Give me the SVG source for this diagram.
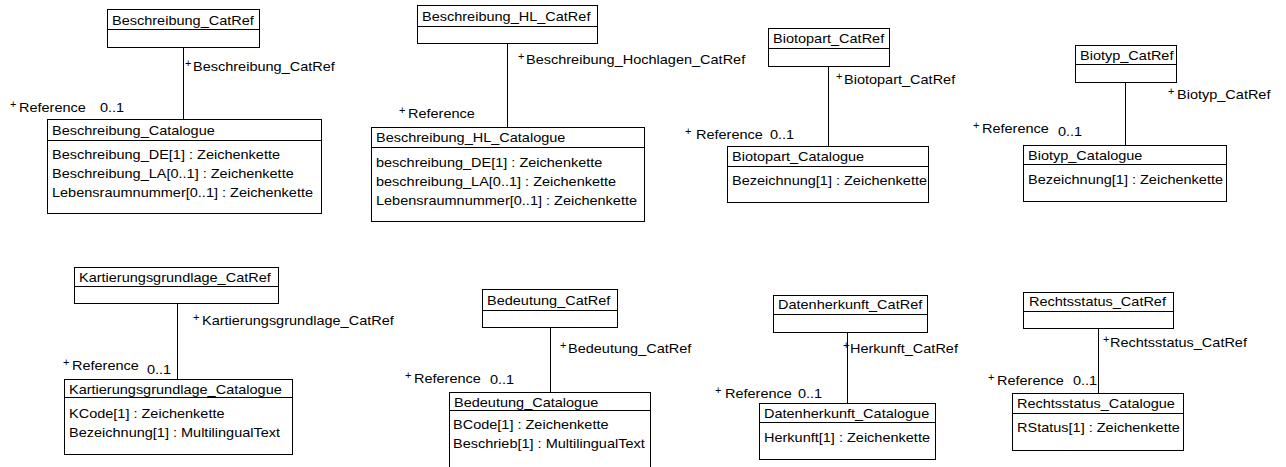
<svg xmlns="http://www.w3.org/2000/svg" width="1286" height="467" viewBox="0 0 1286 467">
<style>
.box{fill:#fff;stroke:#000;stroke-width:1}
.div{stroke:#000;stroke-width:1}
.con{stroke:#000;stroke-width:1;fill:none}
.t{font-family:"Liberation Sans",Arial,sans-serif;font-size:12px;fill:#000}
.p{font-family:"Liberation Sans",Arial,sans-serif;font-size:11px;fill:#000}
</style>
<rect width="1286" height="467" fill="#fff"/>
<g id="connectors">
<line class="con" x1="183.5" y1="47.5" x2="183.5" y2="119.5"/>
<line class="con" x1="507.5" y1="43.5" x2="507.5" y2="127.5"/>
<line class="con" x1="828.5" y1="66.5" x2="828.5" y2="146.5"/>
<line class="con" x1="1125.5" y1="82.5" x2="1125.5" y2="145.5"/>
<line class="con" x1="177.5" y1="303.5" x2="177.5" y2="379.5"/>
<line class="con" x1="550.5" y1="327.5" x2="550.5" y2="392.5"/>
<line class="con" x1="847.5" y1="332.5" x2="847.5" y2="403.5"/>
<line class="con" x1="1098.5" y1="328.5" x2="1098.5" y2="393.5"/>
<text class="p" x="185" y="67">+</text><text class="t" transform="translate(193 71) scale(1.21 1)">Beschreibung_CatRef</text>
<text class="p" x="10" y="108">+</text><text class="t" transform="translate(19 112) scale(1.21 1)">Reference</text><text class="t" transform="translate(100 112) scale(1.21 1)">0..1</text>
<text class="p" x="518" y="60">+</text><text class="t" transform="translate(526 64) scale(1.21 1)">Beschreibung_Hochlagen_CatRef</text>
<text class="p" x="399" y="114">+</text><text class="t" transform="translate(408 118) scale(1.21 1)">Reference</text>
<text class="p" x="836" y="80">+</text><text class="t" transform="translate(844 84) scale(1.21 1)">Biotopart_CatRef</text>
<text class="p" x="685" y="135">+</text><text class="t" transform="translate(696 139) scale(1.21 1)">Reference</text><text class="t" transform="translate(770 139) scale(1.21 1)">0..1</text>
<text class="p" x="1168" y="95">+</text><text class="t" transform="translate(1177 99) scale(1.21 1)">Biotyp_CatRef</text>
<text class="p" x="973" y="129">+</text><text class="t" transform="translate(982 133) scale(1.21 1)">Reference</text><text class="t" transform="translate(1058 136) scale(1.21 1)">0..1</text>
<text class="p" x="193" y="321">+</text><text class="t" transform="translate(202 325) scale(1.21 1)">Kartierungsgrundlage_CatRef</text>
<text class="p" x="63" y="366">+</text><text class="t" transform="translate(72 370) scale(1.21 1)">Reference</text><text class="t" transform="translate(147 374) scale(1.21 1)">0..1</text>
<text class="p" x="560" y="349">+</text><text class="t" transform="translate(568 353) scale(1.21 1)">Bedeutung_CatRef</text>
<text class="p" x="405" y="379">+</text><text class="t" transform="translate(414 383) scale(1.21 1)">Reference</text><text class="t" transform="translate(490 384) scale(1.21 1)">0..1</text>
<text class="p" x="843" y="349">+</text><text class="t" transform="translate(850 353) scale(1.21 1)">Herkunft_CatRef</text>
<text class="p" x="715" y="394">+</text><text class="t" transform="translate(725 398) scale(1.21 1)">Reference</text><text class="t" transform="translate(798 398) scale(1.21 1)">0..1</text>
<text class="p" x="1103" y="343">+</text><text class="t" transform="translate(1110 347) scale(1.21 1)">Rechtsstatus_CatRef</text>
<text class="p" x="988" y="381">+</text><text class="t" transform="translate(997 385) scale(1.21 1)">Reference</text><text class="t" transform="translate(1073 385) scale(1.21 1)">0..1</text>
</g>
<g id="Beschreibung_CatRef">
<rect class="box" x="107.5" y="9.5" width="152" height="38"/><line class="div" x1="107.5" y1="29.5" x2="259.5" y2="29.5"/>
<text class="t" transform="translate(112 25) scale(1.21 1)">Beschreibung_CatRef</text>
</g>
<g id="Beschreibung_Catalogue">
<rect class="box" x="47.5" y="119.5" width="274" height="94"/><line class="div" x1="47.5" y1="140.5" x2="321.5" y2="140.5"/>
<text class="t" transform="translate(52 135) scale(1.21 1)">Beschreibung_Catalogue</text>
<text class="t" transform="translate(52 159) scale(1.21 1)">Beschreibung_DE[1] : Zeichenkette</text>
<text class="t" transform="translate(52 178) scale(1.21 1)">Beschreibung_LA[0..1] : Zeichenkette</text>
<text class="t" transform="translate(52 197) scale(1.21 1)">Lebensraumnummer[0..1] : Zeichenkette</text>
</g>
<g id="Beschreibung_HL_CatRef">
<rect class="box" x="417.5" y="5.5" width="180" height="38"/><line class="div" x1="417.5" y1="26.5" x2="597.5" y2="26.5"/>
<text class="t" transform="translate(422 21) scale(1.21 1)">Beschreibung_HL_CatRef</text>
</g>
<g id="Beschreibung_HL_Catalogue">
<rect class="box" x="371.5" y="127.5" width="273" height="94"/><line class="div" x1="371.5" y1="147.5" x2="644.5" y2="147.5"/>
<text class="t" transform="translate(376 142) scale(1.21 1)">Beschreibung_HL_Catalogue</text>
<text class="t" transform="translate(376 167) scale(1.21 1)">beschreibung_DE[1] : Zeichenkette</text>
<text class="t" transform="translate(376 186) scale(1.21 1)">beschreibung_LA[0..1] : Zeichenkette</text>
<text class="t" transform="translate(376 205) scale(1.21 1)">Lebensraumnummer[0..1] : Zeichenkette</text>
</g>
<g id="Biotopart_CatRef">
<rect class="box" x="768.5" y="28.5" width="121" height="38"/><line class="div" x1="768.5" y1="48.5" x2="889.5" y2="48.5"/>
<text class="t" transform="translate(773 43) scale(1.21 1)">Biotopart_CatRef</text>
</g>
<g id="Biotopart_Catalogue">
<rect class="box" x="727.5" y="146.5" width="201" height="56"/><line class="div" x1="727.5" y1="166.5" x2="928.5" y2="166.5"/>
<text class="t" transform="translate(732 161) scale(1.21 1)">Biotopart_Catalogue</text>
<text class="t" transform="translate(732 185) scale(1.21 1)">Bezeichnung[1] : Zeichenkette</text>
</g>
<g id="Biotyp_CatRef">
<rect class="box" x="1075.5" y="45.5" width="101" height="37"/><line class="div" x1="1075.5" y1="64.5" x2="1176.5" y2="64.5"/>
<text class="t" transform="translate(1080 60) scale(1.21 1)">Biotyp_CatRef</text>
</g>
<g id="Biotyp_Catalogue">
<rect class="box" x="1023.5" y="145.5" width="203" height="56"/><line class="div" x1="1023.5" y1="164.5" x2="1226.5" y2="164.5"/>
<text class="t" transform="translate(1028 160) scale(1.21 1)">Biotyp_Catalogue</text>
<text class="t" transform="translate(1028 184) scale(1.21 1)">Bezeichnung[1] : Zeichenkette</text>
</g>
<g id="Kartierungsgrundlage_CatRef">
<rect class="box" x="74.5" y="267.5" width="204" height="36"/><line class="div" x1="74.5" y1="286.5" x2="278.5" y2="286.5"/>
<text class="t" transform="translate(79 282) scale(1.21 1)">Kartierungsgrundlage_CatRef</text>
</g>
<g id="Kartierungsgrundlage_Catalogue">
<rect class="box" x="64.5" y="379.5" width="228" height="75"/><line class="div" x1="64.5" y1="397.5" x2="292.5" y2="397.5"/>
<text class="t" transform="translate(69 394) scale(1.21 1)">Kartierungsgrundlage_Catalogue</text>
<text class="t" transform="translate(69 418) scale(1.21 1)">KCode[1] : Zeichenkette</text>
<text class="t" transform="translate(69 437) scale(1.21 1)">Bezeichnung[1] : MultilingualText</text>
</g>
<g id="Bedeutung_CatRef">
<rect class="box" x="482.5" y="289.5" width="135" height="38"/><line class="div" x1="482.5" y1="310.5" x2="617.5" y2="310.5"/>
<text class="t" transform="translate(487 305) scale(1.21 1)">Bedeutung_CatRef</text>
</g>
<g id="Bedeutung_Catalogue">
<rect class="box" x="449.5" y="392.5" width="201" height="80"/><line class="div" x1="449.5" y1="410.5" x2="650.5" y2="410.5"/>
<text class="t" transform="translate(454 407) scale(1.21 1)">Bedeutung_Catalogue</text>
<text class="t" transform="translate(453 429) scale(1.21 1)">BCode[1] : Zeichenkette</text>
<text class="t" transform="translate(453 448) scale(1.21 1)">Beschrieb[1] : MultilingualText</text>
</g>
<g id="Datenherkunft_CatRef">
<rect class="box" x="773.5" y="295.5" width="154" height="37"/><line class="div" x1="773.5" y1="314.5" x2="927.5" y2="314.5"/>
<text class="t" transform="translate(778 309) scale(1.21 1)">Datenherkunft_CatRef</text>
</g>
<g id="Datenherkunft_Catalogue">
<rect class="box" x="759.5" y="403.5" width="176" height="56"/><line class="div" x1="759.5" y1="422.5" x2="935.5" y2="422.5"/>
<text class="t" transform="translate(764 418) scale(1.21 1)">Datenherkunft_Catalogue</text>
<text class="t" transform="translate(764 442) scale(1.21 1)">Herkunft[1] : Zeichenkette</text>
</g>
<g id="Rechtsstatus_CatRef">
<rect class="box" x="1023.5" y="292.5" width="150" height="36"/><line class="div" x1="1023.5" y1="311.5" x2="1173.5" y2="311.5"/>
<text class="t" transform="translate(1029 306) scale(1.21 1)">Rechtsstatus_CatRef</text>
</g>
<g id="Rechtsstatus_Catalogue">
<rect class="box" x="1012.5" y="393.5" width="171" height="57"/><line class="div" x1="1012.5" y1="413.5" x2="1183.5" y2="413.5"/>
<text class="t" transform="translate(1017 408) scale(1.21 1)">Rechtsstatus_Catalogue</text>
<text class="t" transform="translate(1017 432) scale(1.21 1)">RStatus[1] : Zeichenkette</text>
</g>
</svg>
